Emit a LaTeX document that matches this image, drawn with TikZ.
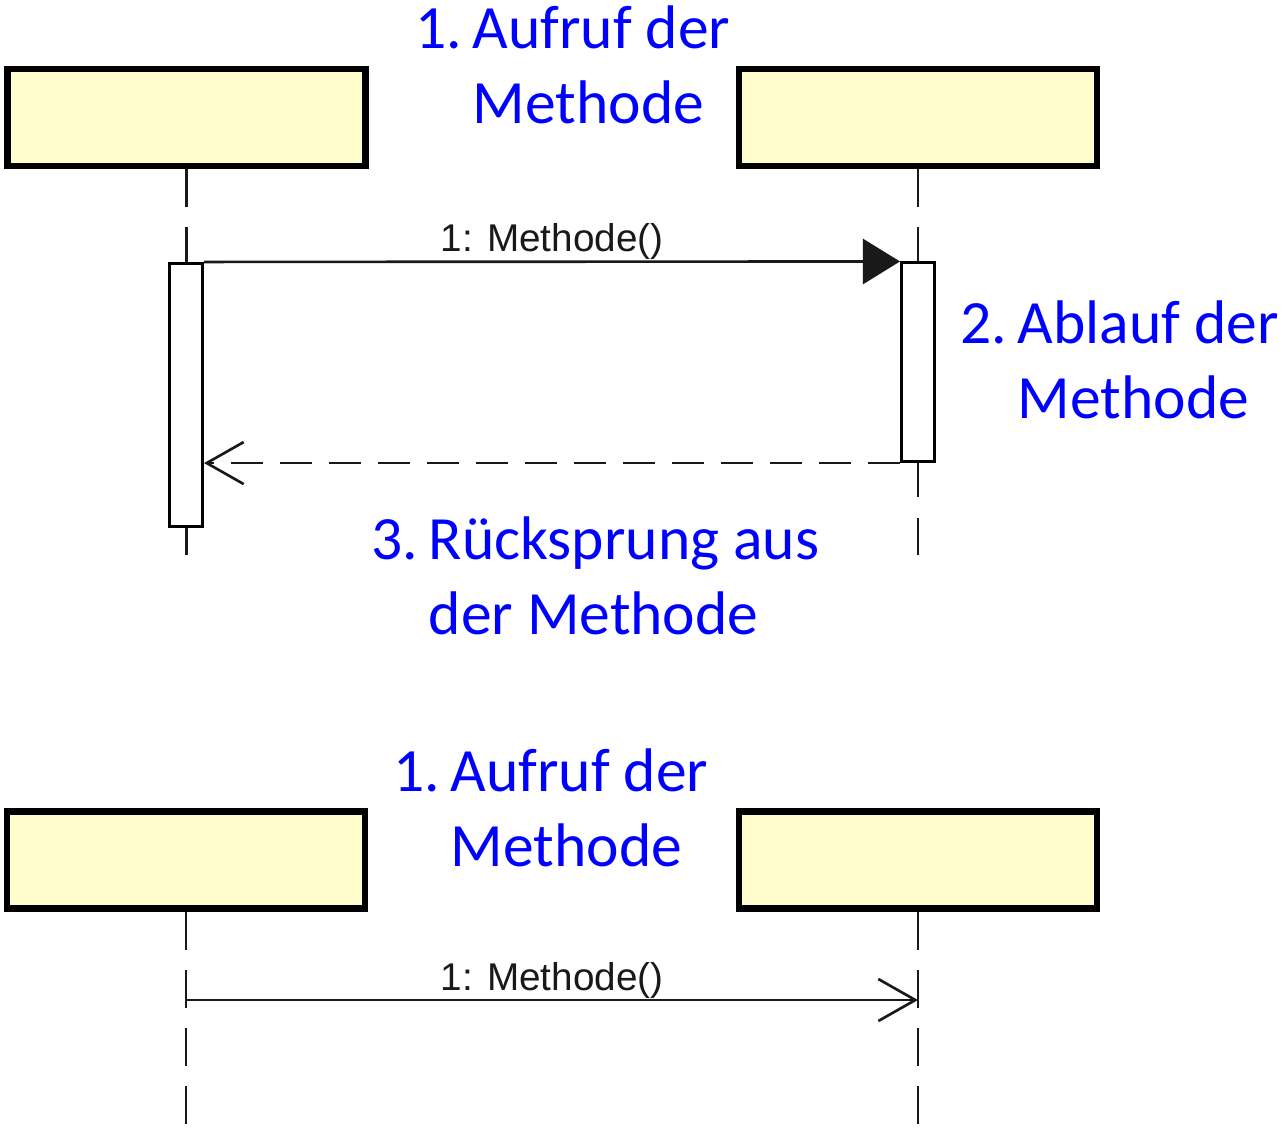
\documentclass[tikz,border=0pt]{standalone}
\usepackage{fontspec}
\usepackage{tikz}
\usetikzlibrary{arrows.meta}
\usepackage{xcolor}
\newfontfamily\NoteFont{Carlito}
\newfontfamily\MsgFont{Liberation Sans}
\definecolor{ColBox}{RGB}{255,253,204}
\definecolor{ColNote}{RGB}{0,0,255}
\newcommand{\StepNum}[1]{\makebox[0pt][r]{\makebox[0.57cm][l]{#1}}}
\tikzstyle{ObjBox}=[rectangle,draw=black,fill=ColBox,line width=1.85pt,minimum width=3.58cm,
minimum height=0.97cm,inner sep=0pt]
\tikzstyle{ActBar}=[rectangle,draw=black,fill=white,line width=0.85pt,minimum width=0.33cm,inner sep=0pt]
\tikzstyle{LifeLine}=[black!90,line width=0.7pt,dash pattern=on 0.38cm off 0.2cm]
\tikzstyle{MsgCall}=[black!90,line width=0.75pt]
\tikzstyle{MsgReturn}=[black!90,line width=0.75pt,dash pattern=on 0.32cm off 0.17cm]
\tikzstyle{MsgLabel}=[font=\MsgFont\fontsize{11}{13}\selectfont,text=black!90,inner sep=0pt,
anchor=base,yshift=0.1cm]
\tikzstyle{NoteText}=[font=\NoteFont\fontsize{17.5}{21.3}\selectfont,text=ColNote,align=left,
inner sep=0pt,anchor=base west]
\begin{document}
\begin{tikzpicture}[x=0.01cm,y=-0.01cm]
        \useasboundingbox(0,0)rectangle(1284,1129);
        % oben: Aufruf mit Rueckgabe
        \node[ObjBox](objA)at(186.5,117.5){};
        \node[ObjBox](objB)at(918,117.5){};
        \coordinate(endA)at(186.5,555);
        \coordinate(endB)at(918,555);
        \draw[LifeLine](objA.south)--(endA);
        \draw[LifeLine](objB.south)--(endB);
        \node[ActBar,minimum height=2.63cm](actA)at(186,395){};
        \node[ActBar,minimum height=1.985cm](actB)at(918,362.25){};
        \draw[MsgCall,-{Triangle[length=0.37cm,width=0.45cm]}](actA.north east)--(actB.north west)
            node[MsgLabel,midway](msgA){1: Methode()};
        \draw[MsgReturn,-{Straight Barb[length=0.37cm,width=0.42cm]}](actB.south west)--(actA.east|-actB.south);
        % Basislinie = letzte Zeile
        \node[NoteText](noteA)at(472,123){\StepNum{1.}Aufruf der\\Methode};
        \node[NoteText](noteB)at(1017,418){\StepNum{2.}Ablauf der\\Methode};
        \node[NoteText](noteC)at(428,634){\StepNum{3.}Rücksprung aus\\der Methode};
        % unten: einfacher Aufruf
        \node[ObjBox](objC)at(186,860){};
        \node[ObjBox](objD)at(918,860){};
        \coordinate(endC)at(186,1129);
        \coordinate(endD)at(918,1129);
        \draw[LifeLine](objC.south)--(endC);
        \draw[LifeLine](objD.south)--(endD);
        \coordinate(sendC)at(186,1000);
        \coordinate(recvD)at(918,1000);
        \draw[MsgCall,-{Straight Barb[length=0.37cm,width=0.42cm]}](sendC)--(recvD)
            node[MsgLabel,midway](msgB){1: Methode()};
        \node[NoteText](noteD)at(450,866){\StepNum{1.}Aufruf der\\Methode};
    \end{tikzpicture}
\end{document}
